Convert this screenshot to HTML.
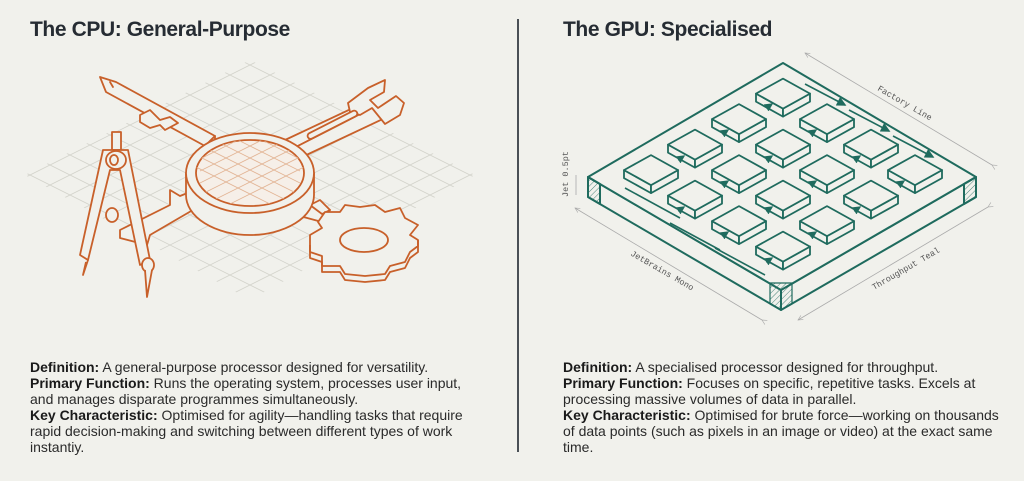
<!DOCTYPE html>
<html><head><meta charset="utf-8">
<style>
html,body{margin:0;padding:0;background:#f1f1ec;width:1024px;height:481px;overflow:hidden;}
body{position:relative;font-family:"Liberation Sans",sans-serif;color:#222;}
h1{position:absolute;margin:0;font-size:21px;font-weight:bold;color:#262c33;top:18px;letter-spacing:-0.4px;}
.txt{position:absolute;top:359px;font-size:14px;line-height:16px;color:#2a2a2a;white-space:nowrap;}
.txt b{color:#1a1a1a;}
.div{position:absolute;left:517px;top:19px;width:2px;height:433px;background:#4a5056;}
svg{position:absolute;left:0;top:0;}
</style></head><body>
<h1 style="left:30px">The CPU: General-Purpose</h1>
<h1 style="left:563px">The GPU: Specialised</h1>
<div class="div"></div>
<svg width="1024" height="481" viewBox="0 0 1024 481">
<defs>
<clipPath id="gc"><polygon points="250,60 475,175 250,300 25,175"/></clipPath>
<clipPath id="rc"><ellipse cx="250" cy="173" rx="54" ry="33"/></clipPath>
<pattern id="hat" width="4" height="4" patternUnits="userSpaceOnUse" patternTransform="rotate(45)"><line x1="0" y1="0" x2="0" y2="4" stroke="#1f6b5e" stroke-width="0.8"/></pattern>
<g id="t" fill="#f1f1ec" stroke="#1f6b5e" stroke-width="1.8" stroke-linejoin="round">
<polygon points="-27,0 0,15 0,23 -27,8"/>
<polygon points="0,15 27,0 27,8 0,23"/>
<polygon points="-27,0 0,-15 27,0 0,15"/>
</g>
<marker id="ah" markerWidth="6" markerHeight="6" refX="5" refY="3" orient="auto"><path d="M0,0 L6,3 L0,6z" fill="#1f6b5e"/></marker>
<marker id="ga" markerWidth="8" markerHeight="8" refX="1" refY="4" orient="auto"><path d="M7,1 L1,4 L7,7" fill="none" stroke="#aaa" stroke-width="0.8"/></marker>
</defs>

<g clip-path="url(#gc)" stroke="#d4d4cc" stroke-width="0.8">
<g id="gl">
<line x1="-200" y1="-40" x2="700" y2="410"/><line x1="-200" y1="-20" x2="700" y2="430"/><line x1="-200" y1="0" x2="700" y2="450"/><line x1="-200" y1="20" x2="700" y2="470"/><line x1="-200" y1="40" x2="700" y2="490"/><line x1="-200" y1="60" x2="700" y2="510"/><line x1="-200" y1="80" x2="700" y2="530"/><line x1="-200" y1="-60" x2="700" y2="390"/><line x1="-200" y1="-80" x2="700" y2="370"/><line x1="-200" y1="-100" x2="700" y2="350"/><line x1="-200" y1="-120" x2="700" y2="330"/><line x1="-200" y1="-140" x2="700" y2="310"/><line x1="-200" y1="-160" x2="700" y2="290"/><line x1="-200" y1="-180" x2="700" y2="270"/><line x1="-200" y1="-200" x2="700" y2="250"/><line x1="-200" y1="-220" x2="700" y2="230"/><line x1="-200" y1="-240" x2="700" y2="210"/><line x1="-200" y1="-260" x2="700" y2="190"/>
</g>
<use href="#gl" transform="translate(500,0) scale(-1,1)"/>
</g>

<g fill="#f1f1ec" stroke="#c8602a" stroke-width="1.8" stroke-linejoin="round" stroke-linecap="round">
<polygon points="100,77 116,82 215,136 205,146 106,92"/>
<polyline points="110,82 113,87"/>
<polygon points="140,115 150,110 160,120 170,117 178,123 165,130 160,125 150,128 140,122"/>
<polygon points="205,146 215,136 215,144 205,152"/>
<polygon points="285,140 370,100 372,108 290,150"/>
<polygon points="290,150 372,108 385,118 300,158"/>
<path d="M348,103 L368,88 L385,80 L384,92 L370,100 L378,108 L396,96 L404,103 L400,115 L385,124 L372,108 L360,115 L350,112z"/>
<rect x="305" y="122" width="55" height="6" rx="3" transform="rotate(-27 332 125)"/>
<polygon points="120,230 170,205 170,190 180,196 195,190 210,200 150,235 147,245 120,238"/>
<polygon points="190,198 212,188 215,196 195,206"/>
<polygon points="290,200 330,210 322,222 285,212"/>
<polygon points="310,205 320,200 330,210 322,214"/>
<path d="M186,173 L186,195 A64,40 0 0 0 314,195 L314,173"/>
<ellipse cx="250" cy="173" rx="64" ry="40"/>
<ellipse cx="250" cy="173" rx="54" ry="33" fill="#f6efe8"/>
</g>
<g clip-path="url(#rc)" stroke="#e2b595" stroke-width="0.8">
<line x1="190" y1="140" x2="300" y2="195"/><line x1="190" y1="152" x2="300" y2="207"/><line x1="190" y1="128" x2="300" y2="183"/><line x1="190" y1="116" x2="300" y2="171"/><line x1="190" y1="164" x2="300" y2="219"/><line x1="190" y1="104" x2="300" y2="159"/>
<line x1="310" y1="140" x2="200" y2="195"/><line x1="310" y1="152" x2="200" y2="207"/><line x1="310" y1="128" x2="200" y2="183"/><line x1="310" y1="116" x2="200" y2="171"/><line x1="310" y1="164" x2="200" y2="219"/><line x1="310" y1="104" x2="200" y2="159"/>
</g>
<g fill="#f1f1ec" stroke="#c8602a" stroke-width="1.8" stroke-linejoin="round">
<path d="M310,245 L310,258 L322,262 L322,272 L340,272 L345,280 L365,282 L385,280 L390,272 L405,268 L410,258 L418,252 L418,240 L410,235 L418,225 L405,218 L400,208 L385,212 L375,205 L360,207 L345,205 L340,212 L325,212 L318,222 L322,228 L310,235z"/>
<path d="M310,245 L310,252 L322,256 L322,266 L340,266 L345,274 L365,276 L385,274 L390,266 L405,262 L410,252 L418,246 L418,240" fill="none"/>
<ellipse cx="364" cy="240" rx="24" ry="12"/>
<rect x="112" y="132" width="9" height="18"/>
<polygon points="103,150 128,150 150,260 140,265 120,170 110,170 88,260 80,255"/>
<ellipse cx="116" cy="160" rx="10" ry="9"/>
<ellipse cx="114" cy="160" rx="4" ry="5"/>
<ellipse cx="112" cy="215" rx="6" ry="7"/>
<ellipse cx="148" cy="265" rx="6" ry="7"/>
<polyline points="88,260 83,275 86,262"/>
<polyline points="145,270 147,297 152,270"/>
</g>

<g stroke="#aaa" stroke-width="0.8" fill="none">
<line x1="805" y1="53" x2="992" y2="165" marker-start="url(#ga)" marker-end="url(#ga)"/>
<line x1="575" y1="208" x2="762" y2="320" marker-start="url(#ga)" marker-end="url(#ga)"/>
<line x1="798" y1="320" x2="988" y2="207" marker-start="url(#ga)" marker-end="url(#ga)"/>
<line x1="576" y1="175" x2="576" y2="195"/>
</g>
<g font-family="Liberation Mono,monospace" font-size="8.5" fill="#555">
<text transform="translate(877,90) rotate(30)">Factory Line</text>
<text transform="translate(568,197) rotate(-90)">Jet 0.5pt</text>
<text transform="translate(630,255) rotate(30)">JetBrains Mono</text>
<text transform="translate(874,290) rotate(-30)">Throughput Teal</text>
</g>
<g fill="#f1f1ec" stroke="#1f6b5e" stroke-width="2" stroke-linejoin="round">
<polygon points="588,177 781,290 781,310 588,197"/>
<polygon points="781,290 976,177 976,197 781,310"/>
<polygon points="783,63 976,177 781,290 588,177"/>
<polygon points="588,177 600,184 600,204 588,197" fill="url(#hat)"/>
<polygon points="964,184 976,177 976,197 964,204" fill="url(#hat)"/>
<polygon points="770,283 792,283 792,304 781,310 770,304" fill="url(#hat)" stroke-width="1.2"/>
</g>
<g stroke="#1f6b5e" stroke-width="1.6" fill="none">
<polyline points="805,84 845,105" marker-end="url(#ah)"/>
<polyline points="849,110 889,131" marker-end="url(#ah)"/>
<polyline points="893,136 933,157" marker-end="url(#ah)"/>
<line x1="625" y1="188" x2="680" y2="218"/>
<line x1="670" y1="223" x2="720" y2="250"/>
<line x1="715" y1="248" x2="765" y2="275"/>
</g>
<use href="#t" x="783" y="93.6"/>
<use href="#t" x="827" y="119.1"/><use href="#t" x="739" y="119.1"/>
<use href="#t" x="871" y="144.6"/><use href="#t" x="783" y="144.6"/><use href="#t" x="695" y="144.6"/>
<use href="#t" x="915" y="170.1"/><use href="#t" x="827" y="170.1"/><use href="#t" x="739" y="170.1"/><use href="#t" x="651" y="170.1"/>
<use href="#t" x="871" y="195.6"/><use href="#t" x="783" y="195.6"/><use href="#t" x="695" y="195.6"/>
<use href="#t" x="827" y="221.1"/><use href="#t" x="739" y="221.1"/>
<use href="#t" x="783" y="246.6"/>
<g stroke="#1f6b5e" stroke-width="1.4" fill="none">
<line x1="678" y1="160" x2="684" y2="156" marker-end="url(#ah)"/>
<line x1="722" y1="134" x2="728" y2="130" marker-end="url(#ah)"/>
<line x1="766" y1="108" x2="772" y2="104" marker-end="url(#ah)"/>
<line x1="678" y1="211" x2="684" y2="207" marker-end="url(#ah)"/>
<line x1="722" y1="185" x2="728" y2="181" marker-end="url(#ah)"/>
<line x1="766" y1="160" x2="772" y2="156" marker-end="url(#ah)"/>
<line x1="810" y1="134" x2="816" y2="130" marker-end="url(#ah)"/>
<line x1="722" y1="236" x2="728" y2="232" marker-end="url(#ah)"/>
<line x1="766" y1="211" x2="772" y2="207" marker-end="url(#ah)"/>
<line x1="810" y1="185" x2="816" y2="181" marker-end="url(#ah)"/>
<line x1="854" y1="160" x2="860" y2="156" marker-end="url(#ah)"/>
<line x1="766" y1="262" x2="772" y2="258" marker-end="url(#ah)"/>
<line x1="810" y1="236" x2="816" y2="232" marker-end="url(#ah)"/>
<line x1="854" y1="211" x2="860" y2="207" marker-end="url(#ah)"/>
<line x1="898" y1="185" x2="904" y2="181" marker-end="url(#ah)"/>
</g>
</svg>

<div class="txt" style="left:30px"><b>Definition:</b> A general-purpose processor designed for versatility.<br><b>Primary Function:</b> Runs the operating system, processes user input,<br>and manages disparate programmes simultaneously.<br><b>Key Characteristic:</b> Optimised for agility—handling tasks that require<br>rapid decision-making and switching between different types of work<br>instantiy.</div>
<div class="txt" style="left:563px"><b>Definition:</b> A specialised processor designed for throughput.<br><b>Primary Function:</b> Focuses on specific, repetitive tasks. Excels at<br>processing massive volumes of data in parallel.<br><b>Key Characteristic:</b> Optimised for brute force—working on thousands<br>of data points (such as pixels in an image or video) at the exact same<br>time.</div>
</body></html>
